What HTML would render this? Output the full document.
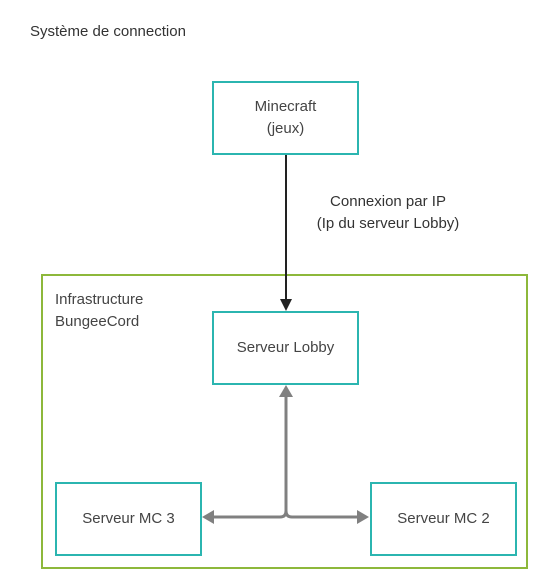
<!DOCTYPE html>
<html><head><meta charset="utf-8"><style>
body{margin:0;width:550px;height:588px;background:#fff;position:relative;overflow:hidden;font-family:"Liberation Sans","DejaVu Sans",sans-serif;color:#333}
.t{position:absolute;font-size:15px;line-height:22px}
.b{position:absolute;box-sizing:border-box;border:2px solid #2bb5b0;width:147px;height:74px;display:flex;align-items:center;justify-content:center;text-align:center;font-size:15px;line-height:22px;color:#444;background:#fff}
</style></head><body>
<div class="t" style="left:30px;top:21px;color:#333">Système de connection</div>
<div style="position:absolute;left:41px;top:274px;width:487px;height:295px;box-sizing:border-box;border:2px solid #8db83b"></div>
<div class="t" style="left:55px;top:289px;color:#444">Infrastructure<br>BungeeCord</div>
<div class="b" style="left:212px;top:81px">Minecraft<br>(jeux)</div>
<div class="b" style="left:212px;top:311px">Serveur Lobby</div>
<div class="b" style="left:55px;top:482px">Serveur MC 3</div>
<div class="b" style="left:370px;top:482px">Serveur MC 2</div>
<div class="t" style="left:303px;top:191px;text-align:center;color:#333;width:170px">Connexion par IP<br>(Ip du serveur Lobby)</div>
<svg width="550" height="588" style="position:absolute;left:0;top:0">
<line x1="286" y1="155" x2="286" y2="300" stroke="#222" stroke-width="2"/>
<polygon points="280,299 292,299 286,311" fill="#222"/>
<path d="M286 397 V511 Q286 517 280 517 H212 M286 511 Q286 517 292 517 H359" stroke="#808080" stroke-width="3" fill="none"/>
<polygon points="279,397 293,397 286,385" fill="#808080"/>
<polygon points="214,510 214,524 202,517" fill="#808080"/>
<polygon points="357,510 357,524 369,517" fill="#808080"/>
</svg>
</body></html>
